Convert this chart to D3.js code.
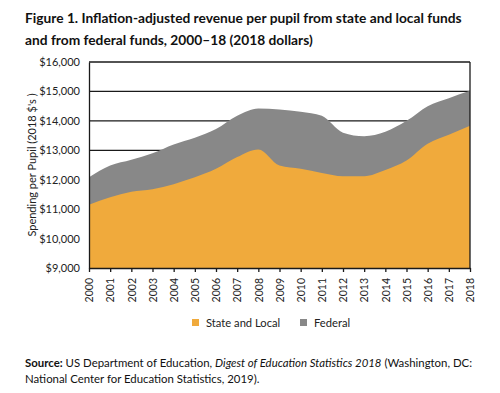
<!DOCTYPE html>
<html>
<head>
<meta charset="utf-8">
<script src="https://cdn.jsdelivr.net/npm/d3@7"></script>
<style>
  body { margin: 0; background: #fff; }
  svg { display: block; font-family: 'Lato', 'Open Sans', sans-serif; }
</style>
</head>
<body>
<svg id="canvas" width="500" height="393"></svg>
<script>
// values (2018 dollars)
let years = [2000, 2001, 2002, 2003, 2004, 2005, 2006, 2007, 2008, 2009,
  2010, 2011, 2012, 2013, 2014, 2015, 2016, 2017, 2018]
let stateLocal = [11150, 11400, 11590, 11680, 11850, 12080, 12370, 12770, 13030, 12480,
  12370, 12230, 12120, 12120, 12330, 12650, 13220, 13530, 13830]
let total = [12080, 12480, 12680, 12900, 13200, 13430, 13720, 14170, 14420, 14390,
  14310, 14170, 13600, 13480, 13630, 14000, 14500, 14770, 15020]
let yTicks = [9000, 10000, 11000, 12000, 13000, 14000, 15000, 16000]
let legendItems = ['State and Local', 'Federal']

let colors = { state: '#f0aa3c', federal: '#888888' }

let canvas = d3.select('#canvas')

let margin = { left: 89, right: 470, top: 62, bottom: 268 }

let xScale = d3.scaleLinear()
  .domain([years[0], years[years.length - 1]])
  .range([margin.left, margin.right])
let yScale = d3.scaleLinear()
  .domain([9000, 16000])
  .range([margin.bottom, margin.top])

// title
let title = canvas.append('text')
  .attr('x', 25)
  .attr('font-size', 13.75)
  .attr('font-weight', 'bold')
  .attr('fill', '#111')
title.append('tspan').attr('x', 25).attr('y', 23)
  .text('Figure 1. Inflation-adjusted revenue per pupil from state and local funds')
title.append('tspan').attr('x', 25).attr('y', 45)
  .text('and from federal funds, 2000\u201318 (2018 dollars)')

// gridlines behind the areas
canvas.append('g')
  .selectAll('line')
  .data(yTicks)
  .enter()
  .append('line')
  .attr('x1', margin.left)
  .attr('x2', margin.right)
  .attr('y1', (d) => yScale(d))
  .attr('y2', (d) => yScale(d))
  .attr('stroke', '#1a1a1a')
  .attr('stroke-width', 1.3)

let rows = years.map((y, i) => ({ year: y, state: stateLocal[i], total: total[i] }))

let federalArea = d3.area()
  .x((d) => xScale(d.year))
  .y0(yScale(9000))
  .y1((d) => yScale(d.total))
  .curve(d3.curveMonotoneX)
let stateArea = d3.area()
  .x((d) => xScale(d.year))
  .y0(yScale(9000))
  .y1((d) => yScale(d.state))
  .curve(d3.curveMonotoneX)

canvas.append('path')
  .attr('d', federalArea(rows))
  .attr('fill', colors.federal)
canvas.append('path')
  .attr('d', stateArea(rows))
  .attr('fill', colors.state)

// frame right side
canvas.append('line')
  .attr('x1', margin.right).attr('x2', margin.right)
  .attr('y1', margin.top).attr('y2', margin.bottom)
  .attr('stroke', '#1a1a1a').attr('stroke-width', 1.3)

// y axis
let yAxis = d3.axisLeft(yScale)
  .tickValues(yTicks)
  .tickSize(0)
  .tickPadding(9)
  .tickFormat((d) => '$' + d3.format(',')(d))
let yG = canvas.append('g')
  .attr('transform', 'translate(' + margin.left + ',0)')
  .call(yAxis)
yG.select('.domain').attr('stroke', '#1a1a1a').attr('stroke-width', 1.3)
yG.selectAll('text')
  .attr('font-size', 11)
  .attr('font-family', "'Lato', 'Open Sans', sans-serif")
  .attr('fill', '#222')

// x axis
let xAxis = d3.axisBottom(xScale)
  .tickValues(years)
  .tickSize(4)
  .tickSizeOuter(0)
  .tickFormat(d3.format('d'))
let xG = canvas.append('g')
  .attr('transform', 'translate(0,' + margin.bottom + ')')
  .call(xAxis)
xG.select('.domain').attr('stroke', '#1a1a1a').attr('stroke-width', 1.3)
xG.selectAll('line').attr('stroke', '#1a1a1a').attr('stroke-width', 1.3)
xG.selectAll('text')
  .attr('font-size', 10.5)
  .attr('font-family', "'Lato', 'Open Sans', sans-serif")
  .attr('fill', '#222')
  .attr('text-anchor', 'end')
  .attr('transform', 'rotate(-90)')
  .attr('x', -10)
  .attr('y', 0)
  .attr('dy', '0.35em')

// y axis title
canvas.append('text')
  .attr('transform', 'translate(36,' + ((margin.top + margin.bottom) / 2) + ') rotate(-90)')
  .attr('text-anchor', 'middle')
  .attr('font-size', 11)
  .attr('fill', '#222')
  .text("Spending per Pupil (2018 $'s )")

// legend
let legend = canvas.append('g')
  .selectAll('g')
  .data(legendItems)
  .enter()
  .append('g')
  .attr('transform', (d, i) => 'translate(' + (i === 0 ? 192 : 300) + ',323)')
legend.append('rect')
  .attr('x', 0).attr('y', -4)
  .attr('width', 7).attr('height', 7)
  .attr('fill', (d, i) => i === 0 ? colors.state : colors.federal)
legend.append('text')
  .attr('x', 14).attr('y', 0)
  .attr('dy', '0.32em')
  .attr('font-size', 11.2)
  .attr('fill', '#222')
  .text((d) => d)

// source note
let src = canvas.append('text')
  .attr('font-size', 11.4)
  .attr('fill', '#111')
let l1 = src.append('tspan').attr('x', 25).attr('y', 367)
l1.append('tspan').attr('font-weight', 'bold').text('Source:')
l1.append('tspan').text(' US Department of Education, ')
l1.append('tspan').attr('font-style', 'italic').text('Digest of Education Statistics 2018')
l1.append('tspan').text(' (Washington, DC:')
src.append('tspan').attr('x', 25).attr('y', 383)
  .text('National Center for Education Statistics, 2019).')
</script>
</body>
</html>
